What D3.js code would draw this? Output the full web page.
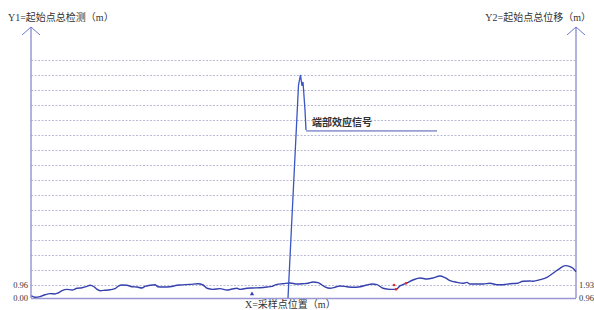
<!DOCTYPE html>
<html>
<head>
<meta charset="utf-8">
<script src="https://cdn.jsdelivr.net/npm/d3@7"></script>
<style>
  body { margin: 0; background: #fff; }
  svg text { font-family: "Liberation Serif", "Noto Sans CJK SC", serif; fill: #333; }
</style>
</head>
<body>
<svg id="chart" width="594" height="310"></svg>
<script>
// sampling position (m) along the line
var positions = [0.1,0.8,1.8,2.8,3.8,4.8,5.4,6.2,7.2,8.2,9.2,10.2,11.2,11.8,12.6,13.2,13.8,14.8,15.8,16.8,
  17.4,18.2,19.2,20.2,21.2,22.2,22.8,23.8,24.8,25.4,26.4,27.8,29.2,29.8,31.8,33.4,34.4,35.2,36.4,37.8,
  39.2,40.2,41.2,41.8,43.2,44.4,45.8,47.2,48.2,49.2,50.4,51.8,53.2,54.4,55.4,56.4,57.4,58.2,58.8,59.8,
  60.8,61.8,63.2,64.4,65.8,67.2,68.2,69.2,70.4,71.8,73.0,73.8,75.0,76.4,77.8,79.2,80.4,81.8,82.8,83.8,
  85.2,86.4,87.2,87.8,89.2,90.4,91.8,93.2,94.4,95.8,97.2,98.4,99.8,100.4,101.8,103.2,104.4,105.8,106.8,107.8,
  108.4,109.0];
// total settlement of start point (Y1)
var settlement = [0.17,0.05,0.10,0.24,0.32,0.30,0.37,0.54,0.64,0.59,0.72,0.76,0.86,0.94,0.83,0.64,0.54,0.57,0.61,0.69,
  0.86,0.96,0.94,0.83,0.81,0.74,0.86,0.94,0.98,0.83,0.81,0.83,0.94,0.96,1.00,1.04,0.96,0.72,0.64,0.69,
  0.59,0.66,0.72,0.64,0.72,0.74,0.76,0.81,0.86,1.00,1.04,1.09,1.02,1.04,1.07,1.15,1.11,0.96,0.83,0.72,
  0.79,0.89,0.83,0.79,0.83,0.96,1.02,0.98,0.72,0.64,0.64,0.89,1.07,1.28,1.41,1.34,1.41,1.54,1.43,1.24,
  1.13,1.07,1.13,1.02,1.02,1.02,1.07,0.98,0.98,1.04,1.07,1.20,1.22,1.20,1.30,1.45,1.71,2.03,2.20,2.14,
  2.03,1.81];

// end effect signal
var spikeX = [51.4,53.5,53.9,54.2,54.4,54.8,55.0];
var spikeY = [0.00,13.76,14.40,13.70,13.95,12.16,10.88];
var calloutX = [55.0, 81.2];
var calloutY = 10.82;
var calloutText = "端部效应信号";

// odd points
var redX = [72.6, 73.0, 75.0];
var redY = [0.96, 0.64, 1.07];
var markX = 44.2, markY = 0.30;

var gridValues = d3.range(1, 17).map(function(k) { return +(0.96 * k).toFixed(2); });
var leftTicks = [0, 0.96];
var leftTickLabels = ["0.00", "0.96"];
var rightTickLabels = ["0.96", "1.93"];

var y1Title = "Y1=起始点总检测（m）";
var y2Title = "Y2=起始点总位移（m）";
var xTitle = "X=采样点位置（m）";

var svg = d3.select("#chart");
var left = 31, right = 576, bottom = 298, axisTop = 27;

var x = d3.scaleLinear().domain([0, 109]).range([left, right]);
var y = d3.scaleLinear().domain([0, 0.96, 15.36]).range([bottom, 285, 60]);

// grid (speckled dotted lines)
svg.append("g").selectAll("line")
  .data(gridValues)
  .enter().append("line")
  .attr("x1", left).attr("x2", right)
  .attr("y1", function(d) { return y(d) + 0.5; })
  .attr("y2", function(d) { return y(d) + 0.5; })
  .attr("stroke", "#b9bad6")
  .attr("stroke-width", 1)
  .attr("stroke-dasharray", "2,1.5");

// axes
var axisColor = "#9a98d4";
svg.append("line").attr("x1", left).attr("x2", left).attr("y1", axisTop).attr("y2", bottom)
  .attr("stroke", axisColor).attr("stroke-width", 1.5);
svg.append("line").attr("x1", right).attr("x2", right).attr("y1", axisTop).attr("y2", bottom)
  .attr("stroke", axisColor).attr("stroke-width", 1.5);
svg.append("line").attr("x1", left).attr("x2", right).attr("y1", bottom + 0.5).attr("y2", bottom + 0.5)
  .attr("stroke", axisColor).attr("stroke-width", 1.5);

[left, right].forEach(function(ax) {
  svg.append("path")
    .attr("d", "M" + (ax - 9) + "," + (axisTop + 8) + "L" + ax + "," + axisTop + "L" + (ax + 9) + "," + (axisTop + 8))
    .attr("fill", "none").attr("stroke", "#6d78d8").attr("stroke-width", 1);
});

// tick labels
svg.append("g").selectAll("text")
  .data(leftTicks)
  .enter().append("text")
  .attr("x", left - 3)
  .attr("y", function(d) { return y(d) + 3; })
  .attr("text-anchor", "end")
  .attr("font-size", 8.5)
  .text(function(d, i) { return leftTickLabels[i]; });

svg.append("g").selectAll("text")
  .data(leftTicks)
  .enter().append("text")
  .attr("x", right + 3)
  .attr("y", function(d) { return y(d) + 3; })
  .attr("text-anchor", "start")
  .attr("font-size", 8.5)
  .text(function(d, i) { return rightTickLabels[i]; });

// titles
svg.append("text").attr("x", 8).attr("y", 21).attr("font-size", 10).text(y1Title);
svg.append("text").attr("x", 591).attr("y", 21).attr("text-anchor", "end").attr("font-size", 10).text(y2Title);
svg.append("text").attr("x", 245).attr("y", 308).attr("font-size", 10).text(xTitle);

// main curve
var line = d3.line()
  .x(function(d) { return x(d[0]); })
  .y(function(d) { return y(d[1]); })
  .curve(d3.curveMonotoneX);

svg.append("path")
  .datum(d3.zip(positions, settlement))
  .attr("d", line)
  .attr("fill", "none")
  .attr("stroke", "#3541ad")
  .attr("stroke-width", 1.4);

// spike
svg.append("path")
  .datum(d3.zip(spikeX, spikeY))
  .attr("d", d3.line().x(function(d) { return x(d[0]); }).y(function(d) { return y(d[1]); }))
  .attr("fill", "none")
  .attr("stroke", "#3a55c4")
  .attr("stroke-width", 1.3);

// callout
svg.append("line")
  .attr("x1", x(calloutX[0])).attr("x2", x(calloutX[1]))
  .attr("y1", y(calloutY)).attr("y2", y(calloutY))
  .attr("stroke", "#4a56b0").attr("stroke-width", 1);
svg.append("text")
  .attr("x", x(calloutX[0]) + 6)
  .attr("y", y(calloutY) - 5)
  .attr("font-size", 10)
  .attr("font-weight", "bold")
  .attr("fill", "#222")
  .text(calloutText);

// red points
svg.append("g").selectAll("circle")
  .data(d3.zip(redX, redY))
  .enter().append("circle")
  .attr("cx", function(d) { return x(d[0]); })
  .attr("cy", function(d) { return y(d[1]); })
  .attr("r", 1.3)
  .attr("fill", "#d83030");

// small marker
svg.append("path")
  .attr("d", d3.symbol().type(d3.symbolTriangle).size(8))
  .attr("transform", "translate(" + x(markX) + "," + y(markY) + ")")
  .attr("fill", "#3541ad");
</script>
</body>
</html>
